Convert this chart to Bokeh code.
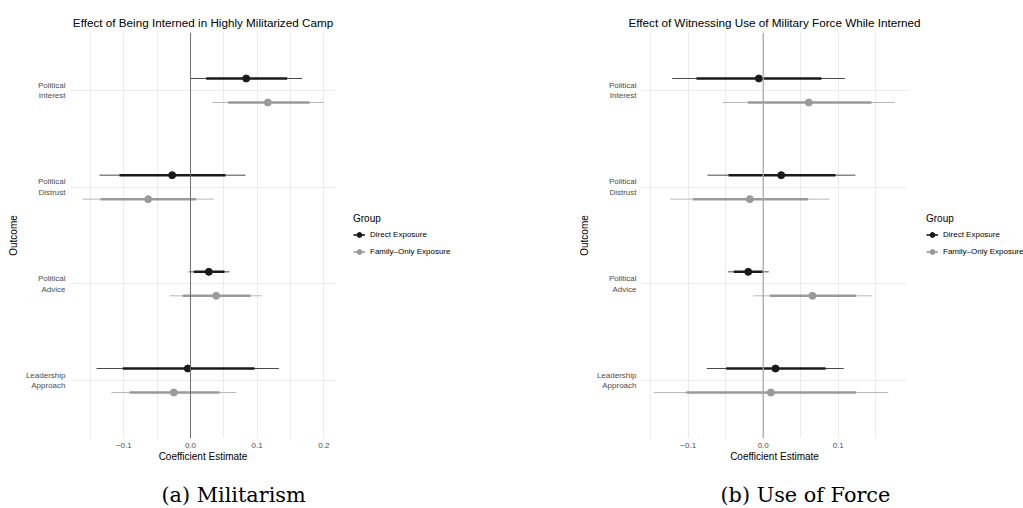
import numpy as np
from bokeh.plotting import figure
from bokeh.models import Range1d, FixedTicker, Span, Legend, LegendItem, Title
from bokeh.layouts import row, column
from bokeh.embed import file_html
from bokeh.resources import INLINE

# ---------------- data ----------------
outcomes = ["Political Interest", "Political Distrust", "Political Advice", "Leadership Approach"]
outcome_labels = ["Political\nInterest", "Political\nDistrust", "Political\nAdvice", "Leadership\nApproach"]
outcome_pos = [4, 3, 2, 1]
groups = ["Direct Exposure", "Family\u2013Only Exposure"]

# (a) Militarism
mil_direct_est = [0.0835, -0.0275, 0.0275, -0.004]
mil_direct_lo90 = [0.0235, -0.1065, 0.005, -0.1015]
mil_direct_hi90 = [0.145, 0.0525, 0.051, 0.096]
mil_direct_lo95 = [0.0, -0.1365, -0.0025, -0.141]
mil_direct_hi95 = [0.1675, 0.0825, 0.0585, 0.1325]
mil_family_est = [0.116, -0.0635, 0.0385, -0.025]
mil_family_lo90 = [0.0565, -0.135, -0.0115, -0.0915]
mil_family_hi90 = [0.1785, 0.0085, 0.09, 0.0435]
mil_family_lo95 = [0.0325, -0.1615, -0.031, -0.1185]
mil_family_hi95 = [0.2, 0.035, 0.1075, 0.0685]

# (b) Use of Force
force_direct_est = [-0.0058, 0.024, -0.02, 0.0164]
force_direct_lo90 = [-0.089, -0.0463, -0.0392, -0.0493]
force_direct_hi90 = [0.0777, 0.0964, 0.0, 0.0831]
force_direct_lo95 = [-0.1213, -0.0743, -0.0472, -0.0752]
force_direct_hi95 = [0.1088, 0.123, 0.0075, 0.1075]
force_family_est = [0.0608, -0.0178, 0.0657, 0.0102]
force_family_lo90 = [-0.0205, -0.0939, 0.0088, -0.1023]
force_family_hi90 = [0.1444, 0.06, 0.124, 0.124]
force_family_lo95 = [-0.0539, -0.1236, -0.0133, -0.1459]
force_family_hi95 = [0.1755, 0.0884, 0.1453, 0.1667]

mil_xticks = [-0.1, 0.0, 0.1, 0.2]
mil_xminor = [-0.15, -0.05, 0.05, 0.15]
force_xticks = [-0.1, 0.0, 0.1]
force_xminor = [-0.15, -0.05, 0.05, 0.15]
# --------------------------------------

SANS = "Liberation Sans"
SERIF = "DejaVu Serif"
DODGE = 0.124
MAIN_H = 465
CAP_H = 43

DIRECT = dict(thin="#4a4a4a", thick="#1a1a1a", pt="#1a1a1a")
FAMILY = dict(thin="#b8b8b8", thick="#9a9a9a", pt="#9a9a9a")
STYLES = [DIRECT, FAMILY]


def blank(fig):
    fig.outline_line_color = None
    fig.background_fill_color = "white"
    fig.border_fill_color = "white"


def make_panel(title, direct, family, xr, xticks, xminor, width, bl, br, zero_color, zero_width):
    p = figure(width=width, height=MAIN_H, x_range=Range1d(*xr), y_range=Range1d(0.4, 4.6),
               output_backend="svg", toolbar_location=None,
               min_border_left=bl, min_border_right=br, min_border_top=32, min_border_bottom=27)
    blank(p)
    p.title.text = title
    p.title.align = "center"
    p.title.text_font = SANS
    p.title.text_font_size = "11.7px"
    p.title.text_font_style = "normal"
    p.title.text_color = "#000000"
    p.title.standoff = 8

    p.xaxis.ticker = FixedTicker(ticks=xticks, minor_ticks=xminor)
    p.yaxis.ticker = FixedTicker(ticks=outcome_pos)
    p.yaxis.major_label_overrides = {pos: lab for pos, lab in zip(outcome_pos, outcome_labels)}
    p.xaxis.major_label_overrides = {t: ("\u22120.1" if t < 0 else f"{t:.1f}") for t in xticks}
    p.xgrid.grid_line_color = "#ebebeb"
    p.xgrid.minor_grid_line_color = "#ebebeb"
    p.ygrid.grid_line_color = "#ebebeb"
    p.xgrid.grid_line_width = 1
    p.ygrid.grid_line_width = 1

    for ax in (p.xaxis, p.yaxis):
        ax.axis_line_color = None
        ax.major_tick_line_color = None
        ax.minor_tick_line_color = None
        ax.major_tick_out = 0
        ax.major_tick_in = 0
        ax.minor_tick_out = 0
        ax.minor_tick_in = 0
        ax.major_label_text_font = SANS
        ax.major_label_text_font_size = "8px"
        ax.major_label_text_color = "#4d4d4d"
        ax.axis_label_text_font = SANS
        ax.axis_label_text_font_size = "10px"
        ax.axis_label_text_font_style = "normal"
        ax.axis_label_text_color = "#000000"
    p.xaxis.axis_label = "Coefficient Estimate"
    p.yaxis.axis_label = "Outcome"
    p.xaxis.major_label_standoff = 4
    p.xaxis.axis_label_standoff = 0
    p.yaxis.major_label_standoff = 5
    p.yaxis.axis_label_standoff = 4
    p.yaxis.major_label_text_align = "right"

    p.add_layout(Span(location=0, dimension="height", line_color=zero_color, line_width=zero_width))

    for (est, lo90, hi90, lo95, hi95), style, off in ((direct, DIRECT, DODGE), (family, FAMILY, -DODGE)):
        ys = [y + off for y in outcome_pos]
        p.segment(x0=lo95, y0=ys, x1=hi95, y1=ys, line_color=style["thin"], line_width=1)
        p.segment(x0=lo90, y0=ys, x1=hi90, y1=ys, line_color=style["thick"], line_width=2.5)
        p.scatter(x=est, y=ys, size=7, fill_color=style["pt"], line_color=style["pt"])
    return p


def make_legend(width, x_off):
    f = figure(width=width, height=MAIN_H, output_backend="svg", toolbar_location=None,
               x_axis_type=None, y_axis_type=None, min_border=0, title="")
    blank(f)
    hidden = np.array([np.nan])  # legend-key renderers only: nothing is drawn in the frame
    items = []
    for name, style in zip(groups, STYLES):
        hline = f.line(x=hidden, y=hidden, line_color=style["thick"], line_width=1.6)
        cross = f.scatter(x=hidden, y=hidden, marker="cross", size=13, line_color=style["thick"], line_width=1.1)
        dot = f.scatter(x=hidden, y=hidden, size=7, fill_color=style["pt"], line_color=style["pt"])
        items.append(LegendItem(label=name, renderers=[hline, cross, dot]))
    legend = Legend(items=items, location=(x_off, 178), title="Group",
                    border_line_color=None, background_fill_alpha=0, padding=0, margin=0,
                    title_text_font=SANS, title_text_font_size="10px", title_text_font_style="normal",
                    title_text_color="#000000", label_text_font=SANS, label_text_font_size="8px",
                    label_text_color="#000000", glyph_width=12, glyph_height=17, label_height=17,
                    label_standoff=5, spacing=0, title_standoff=2)
    f.add_layout(legend)
    return f


def make_caption(text, width, offset):
    c = figure(width=width, height=CAP_H, output_backend="svg", toolbar_location=None,
               x_axis_type=None, y_axis_type=None, min_border=0, title="")
    blank(c)
    c.title.standoff = 0
    cap = Title(text=text, align="left", offset=offset, text_font=SERIF,
                text_font_size="20.8px", text_font_style="normal", text_color="#000000", standoff=3)
    c.add_layout(cap, "below")
    return c


p1 = make_panel("Effect of Being Interned in Highly Militarized Camp",
                (mil_direct_est, mil_direct_lo90, mil_direct_hi90, mil_direct_lo95, mil_direct_hi95),
                (mil_family_est, mil_family_lo90, mil_family_hi90, mil_family_lo95, mil_family_hi95),
                (-0.18, 0.2175), mil_xticks, mil_xminor, 335, 70, 0, "#707070", 1)
p2 = make_panel("Effect of Witnessing Use of Military Force While Interned",
                (force_direct_est, force_direct_lo90, force_direct_hi90, force_direct_lo95, force_direct_hi95),
                (force_family_est, force_family_lo90, force_family_hi90, force_family_lo95, force_family_hi95),
                (-0.1623, 0.1924), force_xticks, force_xminor, 414, 130, 18, "#ababab", 1.3)
l1 = make_legend(176, 18)
l2 = make_legend(98, 1)
c1 = make_caption("(a) Militarism", 511, 161)
c2 = make_caption("(b) Use of Force", 512, 209)

layout = column(row(p1, l1, p2, l2), row(c1, c2))
open("out.html", "w").write(file_html(layout, INLINE))
